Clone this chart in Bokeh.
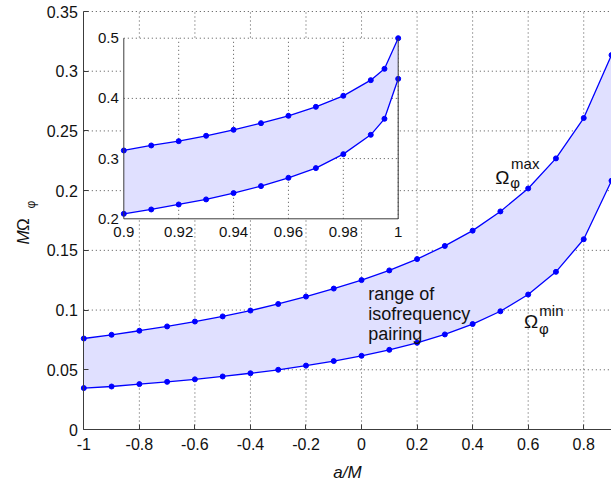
import math
from bokeh.plotting import figure
from bokeh.models import Range1d, FixedTicker, Label, LinearAxis
from bokeh.core.properties import value
from bokeh.embed import file_html
from bokeh.resources import INLINE

# ---------------- data ----------------
spin_main = [-1.0, -0.9, -0.8, -0.7, -0.6, -0.5, -0.4, -0.3, -0.2, -0.1,
             0.0, 0.1, 0.2, 0.3, 0.4, 0.5, 0.6, 0.7, 0.8]
omega_max_main = [0.0762, 0.0793, 0.0827, 0.0863, 0.0904, 0.0947, 0.0996, 0.1051,
                  0.1113, 0.1180, 0.1251, 0.1332, 0.1427, 0.1537, 0.1665, 0.1826,
                  0.2018, 0.2270, 0.2608]
omega_min_main = [0.0347, 0.0360, 0.0380, 0.0399, 0.0420, 0.0444, 0.0471, 0.0500,
                  0.0535, 0.0573, 0.0617, 0.0667, 0.0726, 0.0796, 0.0883, 0.0990,
                  0.1130, 0.1320, 0.1593]

spin_zoom = [0.9, 0.91, 0.92, 0.93, 0.94, 0.95, 0.96, 0.97, 0.98, 0.99, 0.995, 1.0]
omega_max_zoom = [0.3135, 0.3218, 0.3290, 0.3379, 0.3478, 0.3589, 0.3711, 0.3860,
                  0.4043, 0.4303, 0.4491, 0.5000]
omega_min_zoom = [0.2083, 0.2155, 0.2238, 0.2322, 0.2427, 0.2543, 0.2681, 0.2842,
                  0.3074, 0.3395, 0.3661, 0.4325]

x_ticks = [-1.0, -0.8, -0.6, -0.4, -0.2, 0.0, 0.2, 0.4, 0.6, 0.8]
x_tick_labels = ["-1", "-0.8", "-0.6", "-0.4", "-0.2", "0", "0.2", "0.4", "0.6", "0.8"]
y_ticks = [0.0, 0.05, 0.1, 0.15, 0.2, 0.25, 0.3, 0.35]
y_tick_labels = ["0", "0.05", "0.1", "0.15", "0.2", "0.25", "0.3", "0.35"]

inset_x_ticks = [0.9, 0.92, 0.94, 0.96, 0.98, 1.0]
inset_x_tick_labels = ["0.9", "0.92", "0.94", "0.96", "0.98", "1"]
inset_y_ticks = [0.2, 0.3, 0.4, 0.5]
inset_y_tick_labels = ["0.2", "0.3", "0.4", "0.5"]

# ---------------- layout ----------------
W, H = 611, 481
X_AX = (-1.0, 0.9)     # visible part of the a/M axis
Y_AX = (0.0, 0.35)
# axes box in page pixels (left, right, top, bottom)
AL, AR, AT, AB = 83.3, 611.0, 11.0, 429.0
# inset box in page pixels
IL, IR, IT, IB = 123.3, 397.7, 37.7, 218.3

BLUE = "#0000ff"
FILL = "#e0e0ff"
AXC = "#3c3c3c"
GRIDC = "#505050"
TXT = "#111111"
FONT = "Liberation Sans"


def h_range(v0, v1, p0, p1):
    s = (p1 - p0) / (v1 - v0)
    return Range1d(v0 - p0 / s, v1 + (W - p1) / s)


def v_range(v0, v1, p_bottom, p_top):
    s = (p_bottom - p_top) / (v1 - v0)
    return Range1d(v0 - (H - p_bottom) / s, v1 + p_top / s)


p = figure(width=W, height=H, output_backend="svg", toolbar_location=None,
           x_range=h_range(X_AX[0], X_AX[1], AL, AR),
           y_range=v_range(Y_AX[0], Y_AX[1], AB, AT),
           x_axis_location=None, y_axis_location=None, min_border=0)
p.outline_line_color = None
p.background_fill_color = "white"
p.border_fill_color = "white"
for g in p.grid:
    g.visible = False

# main grid (dotted), drawn from the tick arrays
p.segment(x0=x_ticks[1:], x1=x_ticks[1:], y0=[Y_AX[0]] * (len(x_ticks) - 1),
          y1=[Y_AX[1]] * (len(x_ticks) - 1), line_color=GRIDC, line_dash="1 3", line_width=1)
p.segment(x0=[X_AX[0]] * (len(y_ticks) - 1), x1=[X_AX[1]] * (len(y_ticks) - 1),
          y0=y_ticks[1:], y1=y_ticks[1:], line_color=GRIDC, line_dash="1 3", line_width=1)

# axes drawn by Bokeh at fixed positions inside the canvas
xaxis = LinearAxis(fixed_location=Y_AX[0], bounds=X_AX)
yaxis = LinearAxis(fixed_location=X_AX[0], bounds=Y_AX)
for ax, ticks, labels in ((xaxis, x_ticks, x_tick_labels), (yaxis, y_ticks, y_tick_labels)):
    ax.ticker = FixedTicker(ticks=ticks)
    ax.major_label_overrides = {t: l for t, l in zip(ticks, labels)}
    ax.axis_line_color = AXC
    ax.major_tick_line_color = AXC
    ax.major_tick_in = 5
    ax.major_tick_out = 0
    ax.minor_tick_line_color = None
    ax.major_label_text_font = FONT
    ax.major_label_text_font_size = "16px"
    ax.major_label_text_color = TXT
xaxis.major_label_standoff = 8
yaxis.major_label_standoff = 6
p.add_layout(xaxis, "below")
p.add_layout(yaxis, "left")

# main curves
spin_all = spin_main + spin_zoom
omax_all = omega_max_main + omega_max_zoom
omin_all = omega_min_main + omega_min_zoom
p.varea(x=spin_all, y1=omin_all, y2=omax_all, fill_color=FILL)
for ys in (omax_all, omin_all):
    p.line(spin_all, ys, line_color=BLUE, line_width=1.3)
    p.scatter(spin_all, ys, size=5, fill_color=BLUE, line_color=BLUE)

# ---------------- inset (extra ranges mapped onto inset box) ----------------
ix0, ix1 = inset_x_ticks[0], inset_x_ticks[-1]
iy0, iy1 = inset_y_ticks[0], inset_y_ticks[-1]
p.extra_x_ranges = {"ix": h_range(ix0, ix1, IL, IR)}
p.extra_y_ranges = {"iy": v_range(iy0, iy1, IB, IT)}
kw = dict(x_range_name="ix", y_range_name="iy")

p.quad(left=ix0, right=ix1, bottom=iy0, top=iy1, fill_color="white", line_color=None, **kw)
nx = len(inset_x_ticks) - 1
ny = len(inset_y_ticks) - 1
p.segment(x0=inset_x_ticks[1:], x1=inset_x_ticks[1:], y0=[iy0] * nx, y1=[iy1] * nx,
          line_color=GRIDC, line_dash="1 3", line_width=1, **kw)
p.segment(x0=[ix0] * ny, x1=[ix1] * ny, y0=inset_y_ticks[1:], y1=inset_y_ticks[1:],
          line_color=GRIDC, line_dash="1 3", line_width=1, **kw)
p.varea(x=spin_zoom, y1=omega_min_zoom, y2=omega_max_zoom, fill_color=FILL, **kw)
for ys in (omega_max_zoom, omega_min_zoom):
    p.line(spin_zoom, ys, line_color=BLUE, line_width=1.3, **kw)
    p.scatter(spin_zoom, ys, size=5, fill_color=BLUE, line_color=BLUE, **kw)
p.segment(x0=[ix0, ix0, ix1], x1=[ix0, ix1, ix1], y0=[iy0, iy0, iy0], y1=[iy1, iy0, iy1],
          line_color=AXC, line_width=1, **kw)
p.text(x=inset_x_ticks, y=[iy0] * len(inset_x_ticks), text=inset_x_tick_labels,
       text_align="center", text_baseline="top", y_offset=8,
       text_font=value(FONT), text_font_size="15px", text_color=TXT, **kw)
p.text(x=[ix0] * len(inset_y_ticks), y=inset_y_ticks, text=inset_y_tick_labels,
       text_align="right", text_baseline="middle", x_offset=-5,
       text_font=value(FONT), text_font_size="15px", text_color=TXT, **kw)


# ---------------- annotations ----------------
def lab(x, y, t, size, style="normal", units="data", angle=0.0, align="left"):
    p.add_layout(Label(x=x, y=y, text=t, x_units=units, y_units=units,
                       text_font=FONT, text_font_size=size, text_font_style=style,
                       text_color=TXT, text_align=align,
                       text_baseline="alphabetic", angle=angle))


lab(0.024, 0.1134, "range of", "18px")
lab(0.024, 0.0967, "isofrequency", "18px")
lab(0.024, 0.0799, "pairing", "18px")

lab(0.481, 0.2108, "Ω", "19px")
lab(0.5385, 0.2225, "max", "15px")
lab(0.535, 0.2066, "φ", "15px")

lab(0.5853, 0.0905, "Ω", "19px")
lab(0.6403, 0.0994, "min", "15px")
lab(0.6393, 0.0843, "φ", "15px")

# axis titles (screen units: pixels from the canvas' lower-left corner)
lab(347, H - 472, "a/M", "17px", style="italic", units="screen", align="center")
lab(23, H - 244, "M", "17px", style="italic", units="screen", angle=math.pi / 2)
lab(23, H - 230.5, "Ω", "17px", units="screen", angle=math.pi / 2)
lab(30.5, H - 208, "φ", "12px", units="screen", angle=math.pi / 2)

open("out.html", "w").write(file_html(p, INLINE))
